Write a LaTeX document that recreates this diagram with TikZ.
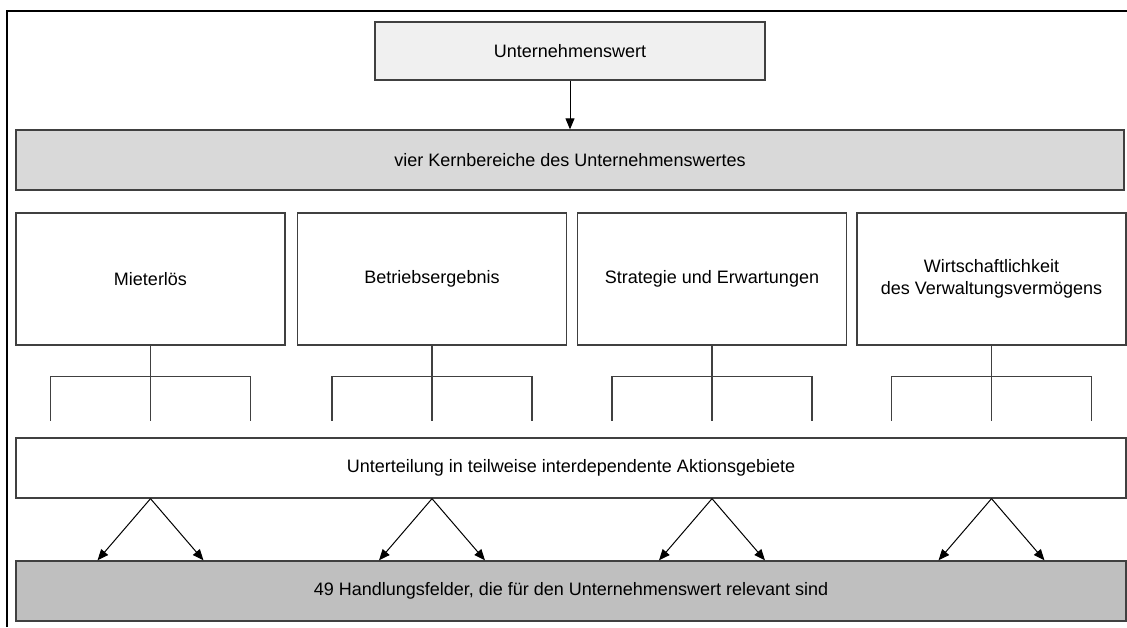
\documentclass[tikz,border=0pt]{standalone}
\usepackage{fontspec}
\setmainfont{Liberation Sans}
\usetikzlibrary{positioning,calc,arrows.meta}

\tikzset{
    box/.style={draw=black!75, line width=1.3pt, inner sep=0pt, align=center,
        font=\fontsize{18}{22}\selectfont},
    area/.style={box, minimum width=269pt, minimum height=132pt},
    tree/.style={draw=black!75, line width=1.3pt},
    link/.style={-{Triangle[length=11pt,width=9pt]}, line width=1pt}
}

\begin{document}
\begin{tikzpicture}[x=1pt, y=-1pt]
    \useasboundingbox (0,0) rectangle (1127,627);
    % frame
    \draw[line width=2.5pt] (7,627) -- (7,11) -- (1127,11);

    \node[box, fill=black!6, minimum width=390pt, minimum height=58pt] (wert) at (570,51) {Unternehmenswert};
    \node[box, fill=black!15, minimum width=1108pt, minimum height=60pt] (kern) at (570,160) {vier Kernbereiche des Unternehmenswertes};

    \node[area] (b1) at (150.5,279) {Mieterlös};
    \node[area] (b2) at (432,279) {Betriebsergebnis};
    \node[area] (b3) at (712,279) {Strategie und Erwartungen};
    \node[area] (b4) at (991.5,279) {Wirtschaftlichkeit\\des Verwaltungsvermögens};

    \node[box, minimum width=1110pt, minimum height=60pt] (teil) at (571,468) {Unterteilung in teilweise interdependente Aktionsgebiete};
    \node[box, fill=black!25, minimum width=1110pt, minimum height=60pt] (feld) at (571,591) {49 Handlungsfelder, die für den Unternehmenswert relevant sind};

    \draw[link] (wert) -- (kern);

    \foreach \b in {b1,b2,b3,b4}{
        \draw[tree] (\b.south) -- ++(0,75);
        \draw[tree] ([shift={(-100,75)}]\b.south) -- ++(0,-44) -- ++(200,0) -- ++(0,44);
        \draw[link] (teil.south -| \b.south) -- ([xshift=-53pt]feld.north -| \b.south);
        \draw[link] (teil.south -| \b.south) -- ([xshift=53pt]feld.north -| \b.south);
    }
\end{tikzpicture}
\end{document}
